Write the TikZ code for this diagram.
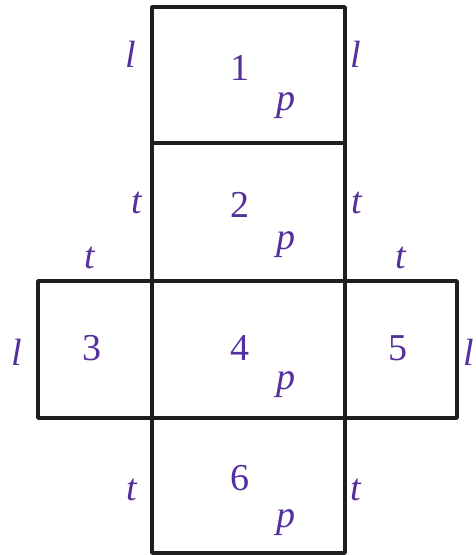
\documentclass[tikz,border=0pt]{standalone}
\usepackage{fontspec}
\setmainfont{Liberation Serif}
\definecolor{lbl}{RGB}{84,48,156}
\definecolor{edge}{RGB}{30,30,30}
\begin{document}
\begin{tikzpicture}[x=1pt,y=-1pt,line join=round,line cap=round,
	lab/.style={text=lbl,inner sep=0pt,font=\fontsize{38}{44}\selectfont},
	side/.style={lab,font=\fontsize{38}{44}\selectfont\itshape}]
	\useasboundingbox (0,0) rectangle (476,555);
	% the net
	\draw[edge,line width=3.4pt] (152,7) rectangle (345,553);
	\draw[edge,line width=3.4pt] (38,281) rectangle (457,418);
	\draw[edge,line width=3.4pt] (152,143) -- (345,143);
	\draw[edge,line width=3.4pt] (152,281) -- (152,418);
	\draw[edge,line width=3.4pt] (345,281) -- (345,418);
	% faces
	\node[lab] (f1) at (240,68) {1};
	\node[lab] (f2) at (240,205) {2};
	\node[lab] (f3) at (92,348) {3};
	\node[lab] (f4) at (240,348) {4};
	\node[lab] (f5) at (398,348) {5};
	\node[lab] (f6) at (240,478) {6};
	\node[side] (p1) at (286,106) {p};
	\node[side] (p2) at (286,245) {p};
	\node[side] (p4) at (286,385) {p};
	\node[side] (p6) at (286,523) {p};
	% edge letters
	\node[side] (l1a) at (131,54) {l};
	\node[side] (l1b) at (356,54) {l};
	\node[side] (t2a) at (137,203) {t};
	\node[side] (t2b) at (357,203) {t};
	\node[side] (t3) at (90,258) {t};
	\node[side] (t5) at (401,258) {t};
	\node[side] (l3) at (17,352) {l};
	\node[side] (l5) at (469,352) {l};
	\node[side] (t6a) at (132,490) {t};
	\node[side] (t6b) at (356,490) {t};
\end{tikzpicture}
\end{document}
